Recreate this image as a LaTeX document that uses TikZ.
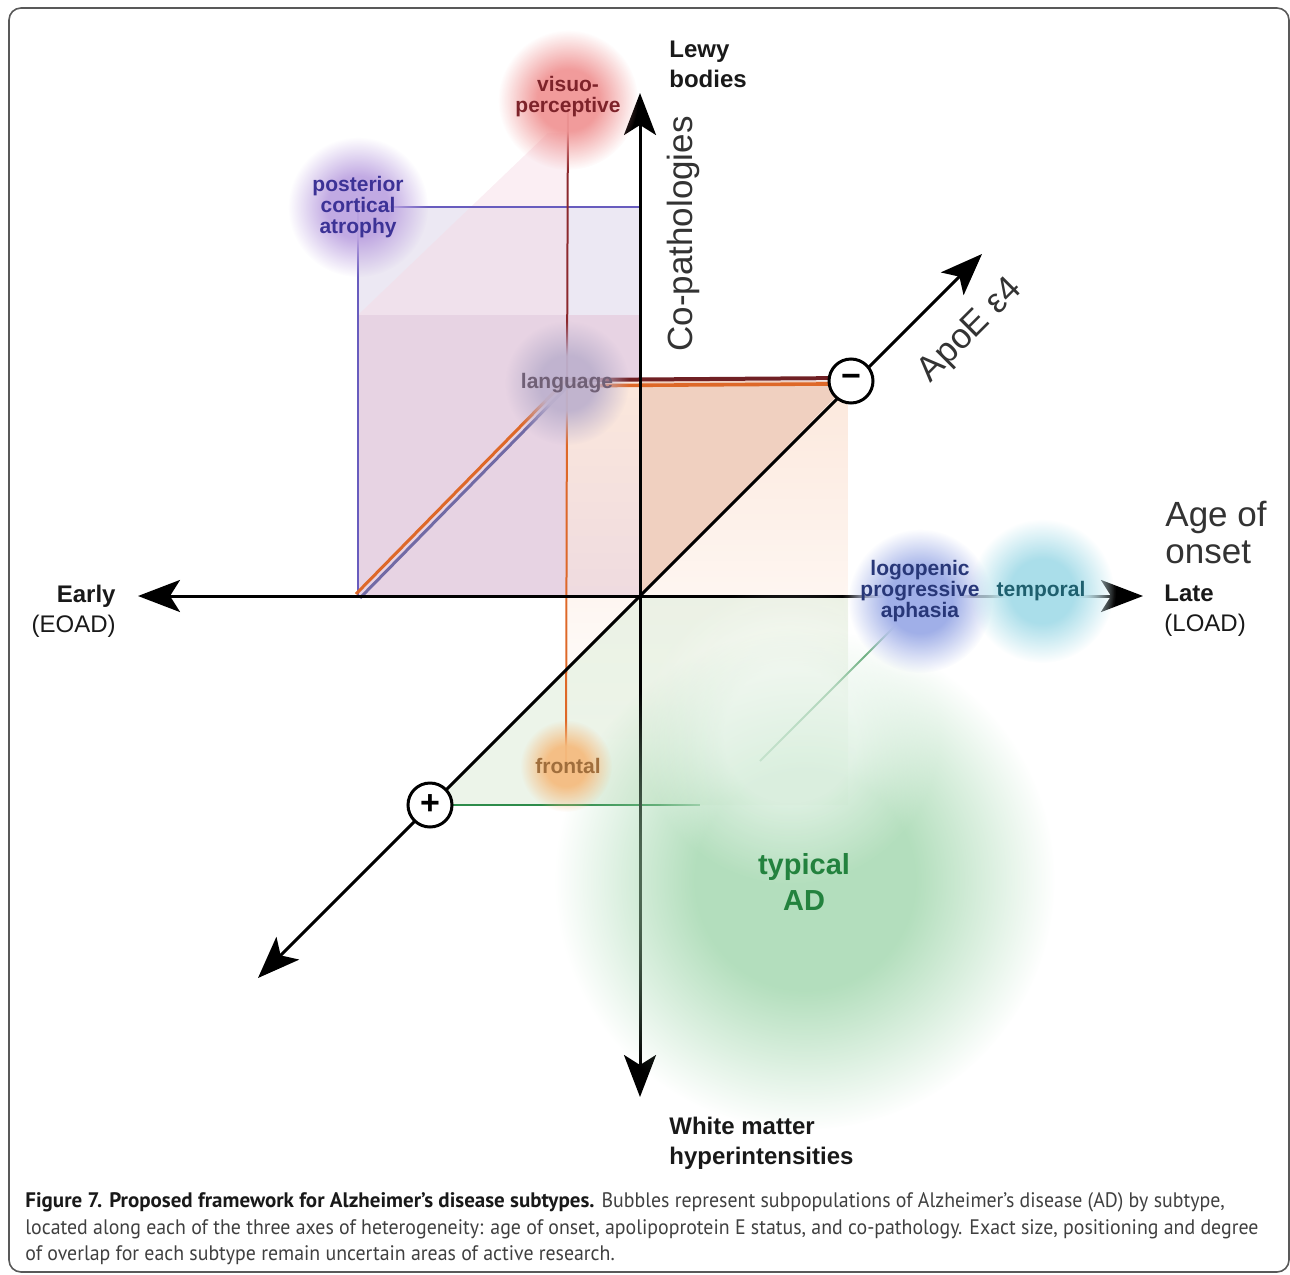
\documentclass[tikz,border=0pt]{standalone}
\usepackage{fontspec}
\setmainfont{Liberation Sans}
\newfontfamily\capfont[FakeStretch=0.945, BoldFeatures={FakeStretch=1.0}]{PT Sans}
\usetikzlibrary{arrows.meta, fadings}

\definecolor{lavender}{RGB}{236,232,243}
\definecolor{lilac}{RGB}{231,211,227}
\definecolor{rosy}{RGB}{246,218,228}
\definecolor{peach}{RGB}{252,232,220}
\definecolor{salmon}{RGB}{240,208,192}
\definecolor{mint}{RGB}{228,240,224}
\definecolor{pcaline}{RGB}{104,92,190}
\definecolor{visuoline}{RGB}{140,40,45}
\definecolor{frontline}{RGB}{222,104,40}
\definecolor{greenline}{RGB}{45,140,75}
\definecolor{visuobub}{RGB}{240,150,150}
\definecolor{pcabub}{RGB}{190,165,225}
\definecolor{langbub}{RGB}{190,178,206}
\definecolor{lpabub}{RGB}{160,175,232}
\definecolor{tempbub}{RGB}{170,222,234}
\definecolor{frontbub}{RGB}{245,188,128}
\definecolor{typbub}{RGB}{160,214,172}
\definecolor{visuotext}{RGB}{125,35,42}
\definecolor{pcatext}{RGB}{60,50,150}
\definecolor{langtext}{RGB}{112,96,118}
\definecolor{lpatext}{RGB}{40,55,120}
\definecolor{temptext}{RGB}{30,95,110}
\definecolor{fronttext}{RGB}{160,110,60}
\definecolor{typtext}{RGB}{35,130,62}

% soft edged disk for the bubbles
\pgfdeclareradialshading{bubbleshade}{\pgfpointorigin}{color(0bp)=(white); color(11bp)=(white); color(25bp)=(black); color(50bp)=(black)}
\pgfdeclarefading{softdisk}{\pgfuseshading{bubbleshade}}
\tikzfading[name=peachfade, top color=transparent!0, middle color=transparent!0, bottom color=transparent!100]

\begin{document}
\begin{tikzpicture}[x=0.5pt, y=-0.5pt,
    >={Stealth[length=21pt, width=16pt, inset=5pt]},
    axis/.style={line width=1.5pt, <->},
    sign/.style={circle, draw, line width=1.5pt, fill=white, minimum size=22pt, inner sep=0pt, font=\bfseries\fontsize{17}{17}\selectfont},
    bubble/.style={fill=#1, path fading=softdisk, fill opacity=0.95},
    tag/.style={font=\bfseries\fontsize{10.5}{10.5}\selectfont, align=center, inner sep=0pt, text=#1},
    axistext/.style={font=\fontsize{12}{15}\selectfont, inner sep=0pt, text=black!90},
    axisbold/.style={font=\bfseries\fontsize{12}{15}\selectfont, align=left, inner sep=0pt, text=black!90},
    bigtext/.style={font=\fontsize{17.5}{18.5}\selectfont, inner sep=0pt, text=black!80}]

    \useasboundingbox (0,0) rectangle (1290,1274);
    \draw[black!65, line width=0.8pt, rounded corners=6pt] (9,8) rectangle (1289,1272);

    % axes ends and bubble centres
    \coordinate (O) at (640,596);
    \coordinate (early) at (138,596);
    \coordinate (late) at (1143,596);
    \coordinate (lewy) at (640,93);
    \coordinate (wmh) at (640,1097);
    \coordinate (apoelow) at (258,978);
    \coordinate (apoehigh) at (982,254);
    \coordinate (minusc) at (851,381);
    \coordinate (plusc) at (430,805);
    \coordinate (visuoc) at (568,100);
    \coordinate (pcac) at (358,207);
    \coordinate (langc) at (567,383);
    \coordinate (lpac) at (920,601);
    \coordinate (tempc) at (1042,591);
    \coordinate (frontc) at (566,766);
    \coordinate (typc) at (805,880);
    \coordinate (typlight) at (790,735);
    \coordinate (pcatop) at (640,207);
    \coordinate (pcafoot) at (358,596);
    \coordinate (lpaend) at (760,761);
    \coordinate (plusend) at (700,805);

    % planes
    \fill[lavender] (358,207) rectangle (640,596);
    \fill[lilac] (358,315) rectangle (640,596);
    \fill[rosy, fill opacity=0.45] (358,315) -- (548,133) -- (568,133) -- (568,315) -- cycle;
    \fill[peach, path fading=peachfade] (568,381) rectangle (848,740);
    \fill[salmon] (640,381) -- (851,381) -- (640,596) -- cycle;
    \fill[mint, fill opacity=0.7] (430,805) -- (640,596) -- (848,596) -- (848,805) -- cycle;

    % subtype lines
    \draw[pcaline, line width=1pt] (pcatop) -- (pcac) -- (pcafoot);
    \draw[visuoline, line width=1pt] (visuoc) -- (langc);
    \draw[frontline, line width=1pt] (langc) -- (frontc);
    \draw[visuoline!80!black, line width=2pt] ([yshift=1.5pt]langc) -- ([yshift=1.5pt]minusc);
    \draw[frontline, line width=1.8pt] ([yshift=-1.4pt]langc) -- ([yshift=-1.4pt]minusc);
    \draw[frontline, line width=1.5pt] ([shift={(-1pt,1pt)}]pcafoot) -- ([shift={(-1pt,1pt)}]langc);
    \draw[pcaline!60!gray, line width=1.5pt] ([shift={(1pt,-1pt)}]pcafoot) -- ([shift={(1pt,-1pt)}]langc);
    \draw[greenline, line width=1pt] (lpac) -- (lpaend);
    \draw[greenline, line width=1pt] (plusc) -- (plusend);

    % axes
    \draw[axis] (early) -- (late);
    \draw[axis] (lewy) -- (wmh);
    \draw[axis] (apoelow) -- (apoehigh);

    % bubbles
    \fill[bubble=typbub, fill opacity=0.8] (typc) circle (250);
    \fill[bubble=white, fill opacity=0.55] (typlight) circle (150);
    \fill[bubble=visuobub] (visuoc) circle (70);
    \fill[bubble=pcabub] (pcac) circle (70);
    \fill[bubble=langbub] (langc) circle (62);
    \fill[bubble=white, fill opacity=1] (lpac) circle (78);
    \fill[bubble=white, fill opacity=1] (tempc) circle (74);
    \fill[bubble=lpabub, fill opacity=1] (lpac) circle (72);
    \fill[bubble=tempbub, fill opacity=1] (tempc) circle (72);
    \fill[bubble=frontbub] (frontc) circle (46);

    \node[sign] (minus) at (minusc) {−};
    \node[sign] (plus) at (plusc) {+};

    % subtype names
    \node[tag=visuotext] (visuo) at (568,97) {visuo-\\perceptive};
    \node[tag=pcatext] (pca) at (358,207) {posterior\\cortical\\atrophy};
    \node[tag=langtext] (lang) at (567,383) {language};
    \node[tag=lpatext] (lpa) at (920,591) {logopenic\\progressive\\aphasia};
    \node[tag=temptext] (temp) at (1041,591) {temporal};
    \node[tag=fronttext] (front) at (568,766) {frontal};
    \node[tag=typtext, font=\bfseries\fontsize{14.5}{18}\selectfont] (typ) at (804,882) {typical\\AD};

    % axis names
    \node[axisbold, anchor=west] (lewylabel) at (669,64) {Lewy\\bodies};
    \node[axistext, anchor=east, align=right] (earlylabel) at (116,611) {\textbf{Early}\\(EOAD)};
    \node[axistext, anchor=west, align=left] (latelabel) at (1164,611) {\textbf{Late}\\(LOAD)};
    \node[bigtext, anchor=west, align=left] (agelabel) at (1165,533) {Age of\\onset};
    \node[bigtext, rotate=90] (colabel) at (683,234) {Co-pathologies};
    \node[bigtext, rotate=45] (apoelabel) at (971,331) {ApoE ε4};
    \node[axisbold, anchor=west] (wmhlabel) at (669,1143) {White matter\\hyperintensities};

    \node[anchor=west, align=left, inner sep=0pt, text=black!75, font=\capfont\fontsize{10.5}{13.2}\selectfont] (caption) at (25,1229)
        {\textcolor{black!90}{\bfseries Figure 7. Proposed framework for Alzheimer’s disease subtypes.} Bubbles represent subpopulations of Alzheimer’s disease (AD) by subtype,\\
        located along each of the three axes of heterogeneity: age of onset, apolipoprotein E status, and co-pathology. Exact size, positioning and degree\\
        of overlap for each subtype remain uncertain areas of active research.};
\end{tikzpicture}
\end{document}
